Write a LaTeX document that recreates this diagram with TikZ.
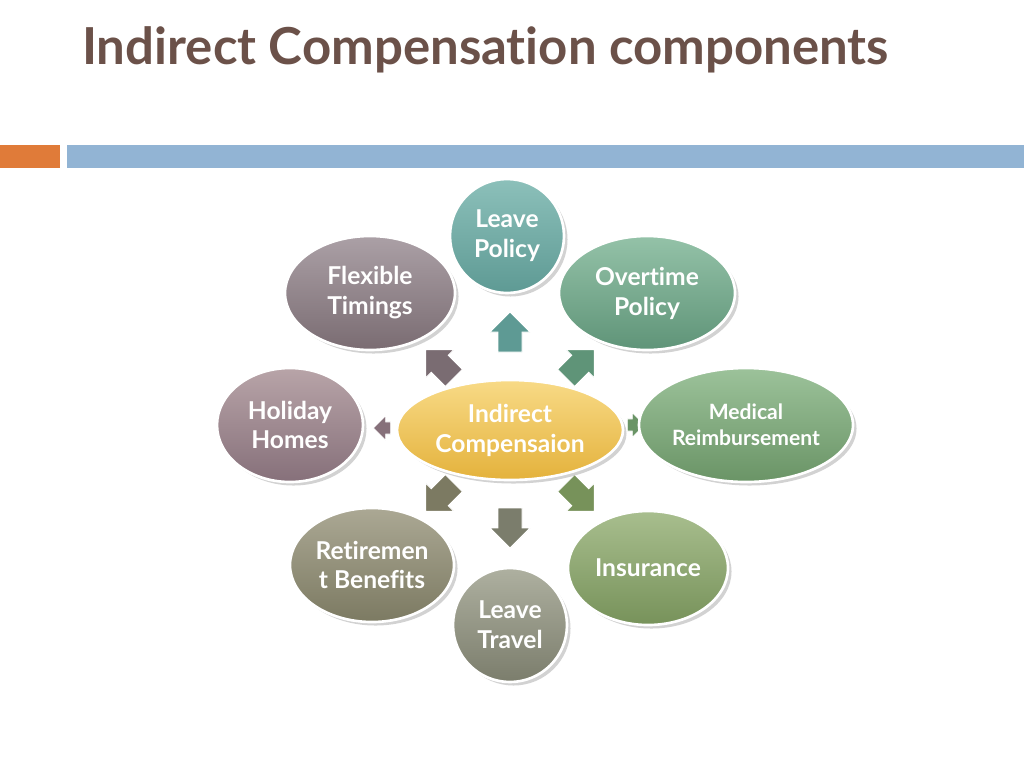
\documentclass[tikz,border=0pt]{standalone}
\usepackage{fontspec}
\setmainfont{Lato}[Ligatures={NoCommon,NoRare}]
\usetikzlibrary{shapes.arrows,shapes.geometric,shadows}
\definecolor{titlec}{HTML}{6B5149}
\definecolor{orangeb}{HTML}{E07B39}
\definecolor{blueb}{HTML}{92B4D4}
\definecolor{c1a}{HTML}{8CC0BA}\definecolor{c1b}{HTML}{5E9A94}
\definecolor{c2a}{HTML}{94C2A8}\definecolor{c2b}{HTML}{5F9478}
\definecolor{c3a}{HTML}{ABA0A6}\definecolor{c3b}{HTML}{7A6C72}
\definecolor{c4a}{HTML}{B8A4A8}\definecolor{c4b}{HTML}{86707A}
\definecolor{c5a}{HTML}{F8DA86}\definecolor{c5b}{HTML}{E4B23C}
\definecolor{c6a}{HTML}{9CC29A}\definecolor{c6b}{HTML}{6A9466}
\definecolor{c7a}{HTML}{ABA894}\definecolor{c7b}{HTML}{7C7A62}
\definecolor{c8a}{HTML}{A8BE8E}\definecolor{c8b}{HTML}{77925A}
\definecolor{c9a}{HTML}{AEB0A0}\definecolor{c9b}{HTML}{7B7D6C}
\tikzset{
 bub/.style 2 args={ellipse,draw=white,line width=1.5pt,inner sep=0pt,
   minimum width=#1*0.02cm,minimum height=#2*0.02cm,font=\bfseries\fontsize{14}{17}\selectfont,text=white,align=center,
   drop shadow={opacity=0.35,shadow xshift=2pt,shadow yshift=-2pt}},
 arr/.style={single arrow,draw=white,line width=0.5pt,minimum height=0.8cm,
   single arrow head extend=3.5pt,minimum width=0.8cm,inner sep=5pt,fill=#1}
}
\begin{document}
\begin{tikzpicture}[x=0.02cm,y=-0.02cm]
\useasboundingbox (0,0) rectangle (1024,768);
\fill[white] (0,0) rectangle (1024,768);
\node[anchor=west,text=titlec,font=\bfseries\fontsize{29}{35}\selectfont] (title) at (76,50) {Indirect Compensation components};
\fill[orangeb] (0,145) rectangle (60,168);
\fill[blueb] (67,145) rectangle (1024,168);
% arrows
\node[arr=c1b,rotate=90] (a1) at (510,338) {};
\node[arr=c2b,rotate=45] (a2) at (576,368) {};
\node[arr=c3b,rotate=135] (a3) at (444,368) {};
\node[arr=c4b,rotate=180,minimum width=0.5cm,minimum height=0.35cm,inner sep=3pt] (a4) at (385,428) {};
\node[arr=c6b,rotate=0,minimum width=0.5cm,minimum height=0.35cm,inner sep=3pt] (a5) at (633,425) {};
\node[arr=c7b,rotate=-135] (a6) at (444,493) {};
\node[arr=c8b,rotate=-45] (a7) at (576,493) {};
\node[arr=c9b,rotate=-90] (a8) at (510,522) {};
% bubbles
\node[bub={114}{114},top color=c1a,bottom color=c1b] (lp) at (507,236) {Leave\\Policy};
\node[bub={176}{114},top color=c2a,bottom color=c2b] (op) at (647,293) {Overtime\\Policy};
\node[bub={170}{114},top color=c3a,bottom color=c3b] (ft) at (370,293) {Flexible\\Timings};
\node[bub={146}{114},top color=c4a,bottom color=c4b] (hh) at (290,425) {Holiday\\Homes};
\node[bub={226}{100},top color=c5a,bottom color=c5b] (ic) at (510,430) {Indirect\\Compensaion};
\node[bub={214}{114},top color=c6a,bottom color=c6b,font=\bfseries\fontsize{12}{15}\selectfont] (mr) at (746,425) {Medical\\Reimbursement};
\node[bub={164}{114},top color=c7a,bottom color=c7b] (rb) at (372,565) {Retiremen\\t Benefits};
\node[bub={160}{114},top color=c8a,bottom color=c8b] (in) at (648,568) {Insurance};
\node[bub={114}{114},top color=c9a,bottom color=c9b] (lt) at (510,625) {Leave\\Travel};
\end{tikzpicture}
\end{document}
